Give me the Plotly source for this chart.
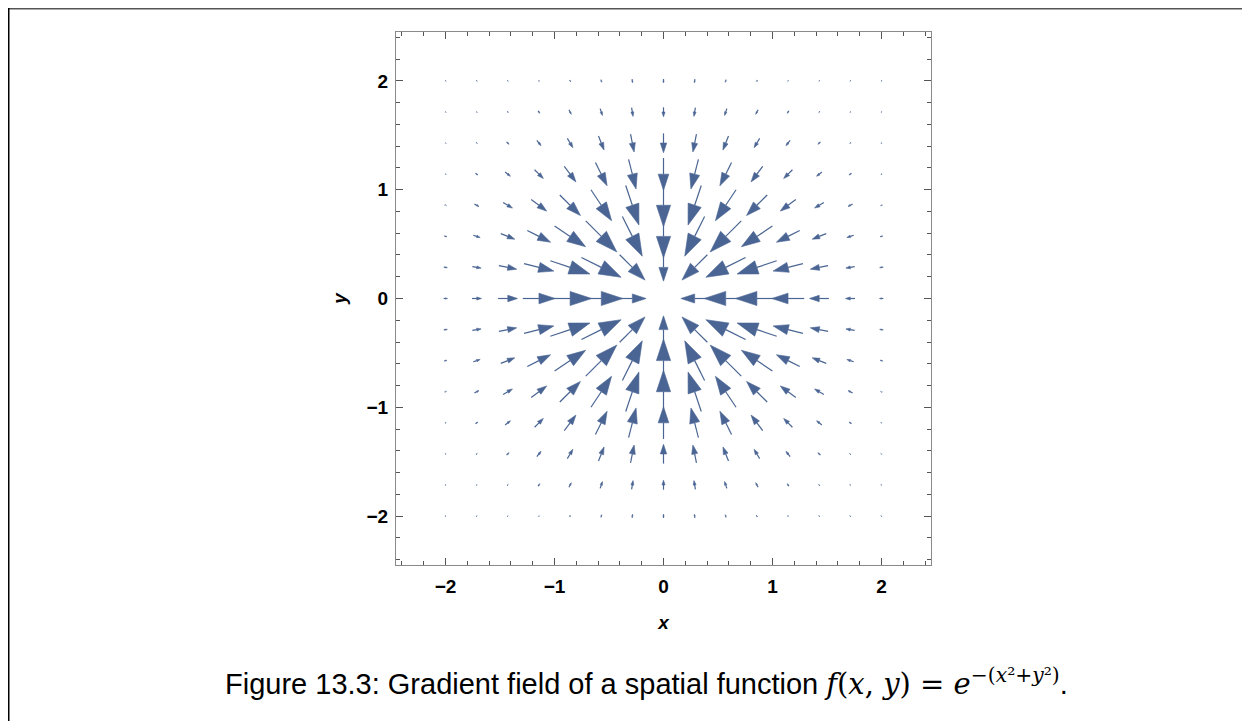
import numpy as np
import plotly.graph_objects as go

# sample points of the field (15 x 15 grid from -2 to 2)
grid_x = [-2.0, -1.714, -1.429, -1.143, -0.857, -0.571, -0.286, 0.0,
          0.286, 0.571, 0.857, 1.143, 1.429, 1.714, 2.0]
grid_y = [-2.0, -1.714, -1.429, -1.143, -0.857, -0.571, -0.286, 0.0,
          0.286, 0.571, 0.857, 1.143, 1.429, 1.714, 2.0]

tick_vals = [-2, -1, 0, 1, 2]
tick_text = ["<b>−2</b>", "<b>−1</b>", "<b>0</b>", "<b>1</b>", "<b>2</b>"]
caption = "Figure 13.3: Gradient field of a spatial function "

arrow_color = "#4a6593"
scale = 0.48  # data units of arrow length per unit of |grad f|
min_len = 0.012  # keep the tiniest arrows visible as dots


def grad_f(x, y):
    # gradient of f(x, y) = exp(-(x^2 + y^2))
    e = np.exp(-(x * x + y * y))
    return -2 * x * e, -2 * y * e


shaft_x, shaft_y = [], []
head_x, head_y = [], []
for gy in grid_y:
    for gx in grid_x:
        u, v = grad_f(gx, gy)
        dx, dy = u * scale, v * scale
        L = np.hypot(dx, dy)
        if L < 1e-9:
            continue
        if L < min_len:
            dx, dy = dx / L * min_len, dy / L * min_len
            L = min_len
        ux, uy = dx / L, dy / L
        px, py = -uy, ux
        tx, ty = gx - dx / 2, gy - dy / 2
        hx, hy = gx + dx / 2, gy + dy / 2
        hl = 0.5 * L
        hw = 0.165 * L
        bx, by = hx - ux * hl, hy - uy * hl
        shaft_x += [tx, bx, None]
        shaft_y += [ty, by, None]
        head_x += [hx, bx + px * hw, bx - px * hw, hx, None]
        head_y += [hy, by + py * hw, by - py * hw, hy, None]

fig = go.Figure()
fig.add_trace(go.Scatter(x=shaft_x, y=shaft_y, mode="lines",
                         line=dict(color=arrow_color, width=1.2),
                         hoverinfo="skip", showlegend=False))
fig.add_trace(go.Scatter(x=head_x, y=head_y, mode="lines", fill="toself",
                         fillcolor=arrow_color,
                         line=dict(color=arrow_color, width=0.6),
                         hoverinfo="skip", showlegend=False))

axis_common = dict(
    showgrid=False, zeroline=False, showline=True, linecolor="#8a8a8a",
    linewidth=1, mirror="ticks", ticks="inside", ticklen=7, tickwidth=1,
    tickcolor="#555555", tickvals=tick_vals, ticktext=tick_text,
    tickfont=dict(family="Liberation Sans, Arial", size=19, color="black"),
    minor=dict(dtick=0.2, tick0=0, ticks="inside", ticklen=4,
               tickcolor="#555555", tickwidth=1, showgrid=False),
)

fig.update_xaxes(range=[-2.455, 2.455], ticklabelstandoff=4,
                 title=dict(text="<b><i>x</i></b>", standoff=19,
                            font=dict(family="Liberation Sans, Arial",
                                      size=19, color="black")),
                 **axis_common)
fig.update_yaxes(range=[-2.45, 2.45], ticklabelstandoff=3,
                 title=dict(text="<b><i>y</i></b>", standoff=14,
                            font=dict(family="Liberation Sans, Arial",
                                      size=19, color="black")),
                 **axis_common)

# caption below the figure
fig.add_annotation(
    xref="paper", yref="paper", x=0.469, y=-0.219, xanchor="center",
    yanchor="middle", showarrow=False,
    text=(caption +
          "<span style='font-family:DejaVu Serif'><i>f</i>(<i>x</i>, <i>y</i>) = "
          "<i>e</i><sup>−(<i>x</i>²+<i>y</i>²)</sup></span>."),
    font=dict(family="Liberation Sans, Arial", size=29, color="black"),
)

# page frame lines (top and left)
L0, T0, PW, PH = 388, 24, 535, 533
fig.add_shape(type="line", xref="paper", yref="paper",
              x0=(0 - L0) / PW, x1=(1250 - L0) / PW,
              y0=(PH + T0 - 0.5) / PH, y1=(PH + T0 - 0.5) / PH,
              line=dict(color="#555555", width=2))
fig.add_shape(type="line", xref="paper", yref="paper",
              x0=(0.5 - L0) / PW, x1=(0.5 - L0) / PW,
              y0=(PH + T0) / PH, y1=(PH + T0 - 721) / PH,
              line=dict(color="black", width=2))

fig.update_layout(
    width=1250, height=721,
    margin=dict(l=L0, r=1250 - L0 - PW, t=T0, b=721 - T0 - PH),
    plot_bgcolor="white", paper_bgcolor="white",
)

fig.write_html("out.html")
